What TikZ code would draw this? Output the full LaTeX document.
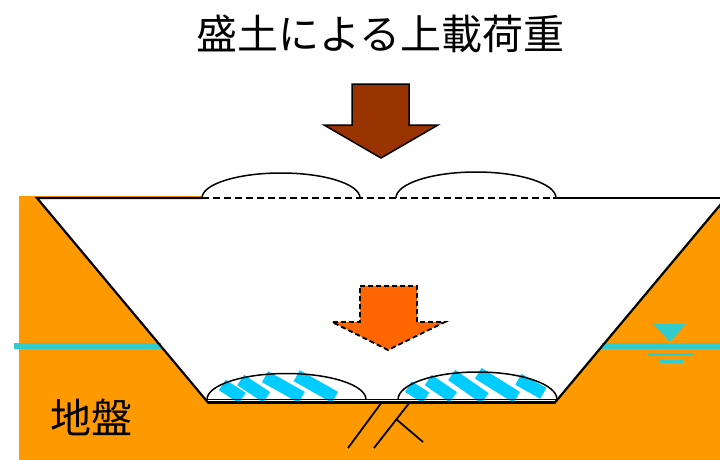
\documentclass[tikz,border=0pt]{standalone}
\usepackage{fontspec}
\newfontfamily\jpfont{Noto Sans CJK JP}
\definecolor{ground}{RGB}{255,153,0}
\definecolor{water}{RGB}{51,204,204}
\definecolor{seep}{RGB}{0,204,255}
\definecolor{loadbrown}{RGB}{153,51,0}
\definecolor{loadorange}{RGB}{255,102,0}
\tikzset{
  dome/.style n args={4}{insert path={(#1-#3,#2) .. controls (#1-#3,#2-0.5523*#4) and (#1-0.5523*#3,#2-#4) .. (#1,#2-#4) .. controls (#1+0.5523*#3,#2-#4) and (#1+#3,#2-0.5523*#4) .. (#1+#3,#2)}},
  outline/.style={draw=black,line width=2.2,line join=miter},
  archline/.style={draw=black,line width=1.5},
  stripe/.style={draw=seep,line width=12.5,line cap=butt},
  crack/.style={draw=black,line width=1.8},
  waterline/.style={draw=water,line width=6},
  label/.style={font=\jpfont\fontsize{41}{48}\selectfont,inner sep=0},
}
\begin{document}
\begin{tikzpicture}[x=1pt,y=-1pt]
\useasboundingbox[fill=white] (0,0) rectangle (720,460);
% ground body
\fill[ground] (19,195.5) rectangle (720,460);
% excavated trench
\fill[white] (37,198) -- (208,402.5) -- (555,402.5) -- (726,198) -- (726,190) -- (202,190) -- (202,198) -- cycle;
\fill[white] (202,190) rectangle (555,198);
% groundwater level
\draw[waterline] (14,346) -- (161,346);
\draw[waterline] (602,346) -- (720,346);
\fill[water] (653,324) -- (686,324) -- (670,342) -- cycle;
\draw[water,line width=3] (648,354) -- (694,354);
\draw[water,line width=3] (660,361) -- (683,361);
% trench outline
\draw[outline] (202,198) -- (37,198) -- (208,402.5) -- (555,402.5) -- (726,198);
\draw[outline] (553,198) -- (720,198);
% embankment base
\draw[black,line width=1.5,dash pattern=on 7pt off 4pt] (202,198) -- (553,198);
\draw[archline] [dome={281}{198}{79}{25}];
\draw[archline] [dome={476}{198}{80}{26}];
% seepage at the bottom
\draw[stripe] (222.3,385) -- (242.3,398);
\draw[stripe] (240.7,380) -- (266.7,397.3);
\draw[stripe] (265,376.7) -- (301.7,397.3);
\draw[stripe] (296.7,375.7) -- (335,397.3);
\draw[stripe] (408.3,386.7) -- (426,397.7);
\draw[stripe] (428.3,380) -- (453.3,397.3);
\draw[stripe] (451.7,375) -- (485,398.3);
\draw[stripe] (478.3,373.3) -- (516.7,397.3);
\draw[stripe] (518.3,379.3) -- (543.3,393.3);
\draw[archline] [dome={286.5}{399.5}{79.5}{26}];
\draw[archline] [dome={477.5}{399.5}{79.5}{27.5}];
\draw[archline] (207,399.5) -- (557,399.5);
\draw[outline] (208,402.5) -- (555,402.5);
% cracks
\draw[crack] (348,448) -- (382,402);
\draw[crack] (374,448) -- (410,402);
\draw[crack] (396,419) -- (423,442);
% load arrows
\draw[fill=loadbrown,draw=black,line width=1.5] (352,84) -- (409,84) -- (409,125) -- (438,125) -- (381,158) -- (324,125) -- (352,125) -- cycle;
\draw[fill=loadorange,draw=black,line width=1.8,dash pattern=on 5pt off 3pt] (360,286) -- (417,286) -- (417,322) -- (445,322) -- (388,350) -- (332,322) -- (360,322) -- cycle;
% labels
\node[label] (title) at (380.5,34) {盛土による上載荷重};
\node[label] (soil) at (91,417) {地盤};
\end{tikzpicture}
\end{document}
